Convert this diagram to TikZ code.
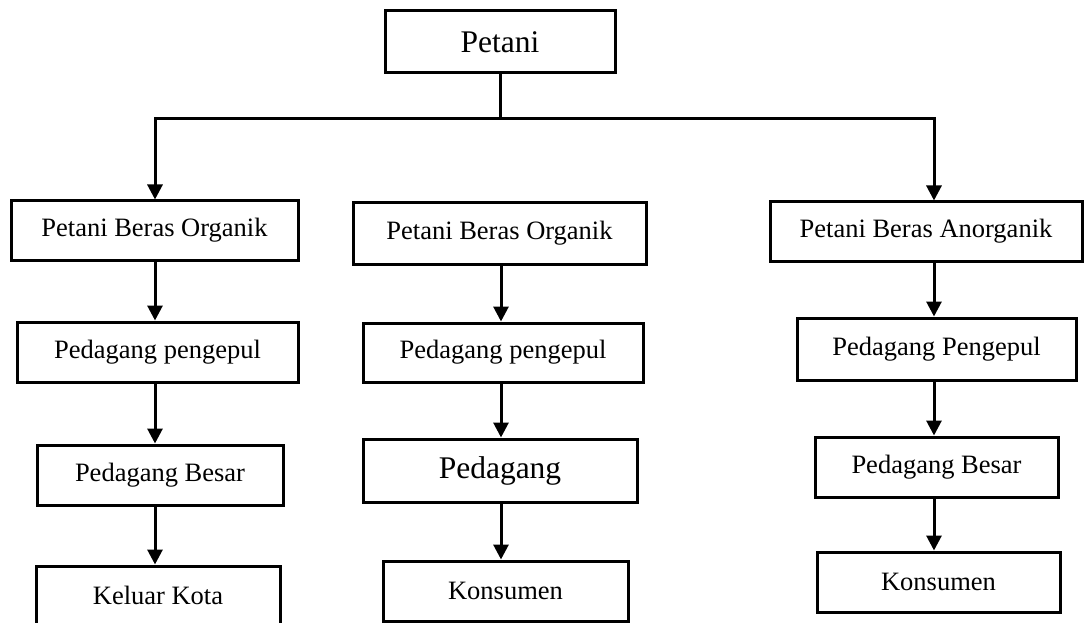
\documentclass[tikz,border=0pt]{standalone}
\usepackage{fontspec}
\setmainfont{Liberation Serif}
\usetikzlibrary{arrows.meta}
\begin{document}
\begin{tikzpicture}[x=1pt,y=-1pt,
  box/.style={draw,line width=3pt,inner sep=0pt,font=\fontsize{26.5}{30}\selectfont},
  bigbox/.style={box,font=\fontsize{31.5}{36}\selectfont},
  arr/.style={line width=3pt,-{Triangle[width=15pt,length=15pt]}},
  ln/.style={line width=3pt}]
  \useasboundingbox (0,0) rectangle (1088,623);
  % columns
  \coordinate (cl) at (155,0);
  \coordinate (cm) at (501,0);
  \coordinate (cr) at (934,0);
  % top
  \node[bigbox,minimum width=230pt,minimum height=62pt] (petani) at (500,42) {Petani};
  % left column
  \node[box,minimum width=287pt,minimum height=59pt] (l1) at (154.5,230.5) {Petani Beras Organik};
  \node[box,minimum width=281pt,minimum height=60pt] (l2) at (157.5,352) {Pedagang pengepul};
  \node[box,minimum width=246pt,minimum height=60pt] (l3) at (160,475) {Pedagang Besar};
  \node[box,minimum width=244pt,minimum height=58pt] (l4) at (158,595) {Keluar Kota};
  % middle column
  \node[box,minimum width=293pt,minimum height=61pt] (m1) at (499.5,233.5) {Petani Beras Organik};
  \node[box,minimum width=280pt,minimum height=59pt] (m2) at (503,352.5) {Pedagang pengepul};
  \node[bigbox,minimum width=274pt,minimum height=63pt] (m3) at (500,470.5) {Pedagang};
  \node[box,minimum width=245pt,minimum height=60pt] (m4) at (505.5,591) {Konsumen};
  % right column
  \node[box,minimum width=312pt,minimum height=59pt] (r1) at (926,231.5) {Petani Beras Anorganik};
  \node[box,minimum width=279pt,minimum height=62pt] (r2) at (936.5,349) {Pedagang Pengepul};
  \node[box,minimum width=243pt,minimum height=60pt] (r3) at (936.5,467) {Pedagang Besar};
  \node[box,minimum width=243pt,minimum height=60pt] (r4) at (938.5,582) {Konsumen};
  % trunk
  \coordinate (split) at (500,119);
  \draw[ln] (petani.south) -- (split);
  \draw[arr] (split) -| (cl |- l1.north);
  \draw[arr] (split) -| (cr |- r1.north);
  % chains
  \foreach \c/\a/\b in {cl/l1/l2,cl/l2/l3,cl/l3/l4,cm/m1/m2,cm/m2/m3,cm/m3/m4,cr/r1/r2,cr/r2/r3,cr/r3/r4}
    \draw[arr] (\c |- \a.south) -- (\c |- \b.north);
\end{tikzpicture}
\end{document}
